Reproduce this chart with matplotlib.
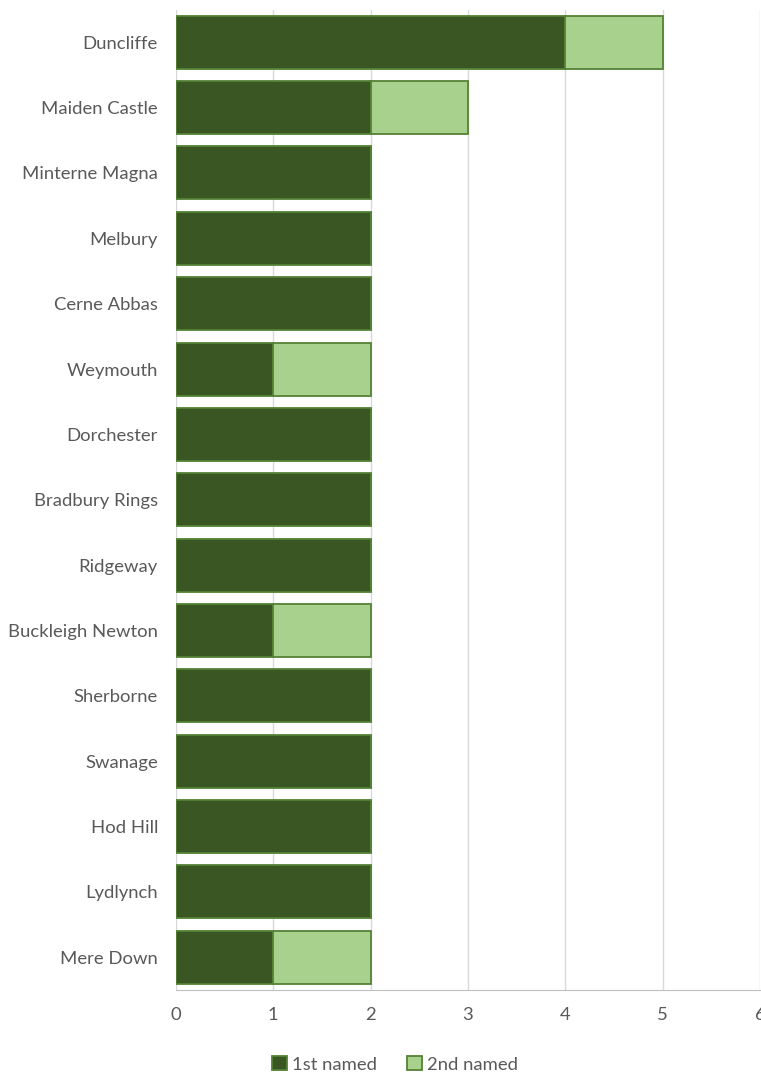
import matplotlib.pyplot as plt

places = ['Duncliffe', 'Maiden Castle', 'Minterne Magna', 'Melbury', 'Cerne Abbas',
          'Weymouth', 'Dorchester', 'Bradbury Rings', 'Ridgeway', 'Buckleigh Newton',
          'Sherborne', 'Swanage', 'Hod Hill', 'Lydlynch', 'Mere Down']
first_named = [4, 2, 2, 2, 2, 1, 2, 2, 2, 1, 2, 2, 2, 2, 1]
second_named = [1, 1, 0, 0, 0, 1, 0, 0, 0, 1, 0, 0, 0, 0, 1]

plt.rcParams['font.family'] = ['Lato', 'DejaVu Sans']
plt.rcParams['font.size'] = 13.3
txt = '#595959'

fig = plt.figure(figsize=(7.61, 10.73), dpi=100)
ax = fig.add_axes([0.2313, 0.0774, 0.7674, 0.9137])

y = list(range(len(places)))
ax.barh(y, first_named, height=0.81, color='#3A5723', edgecolor='#548235',
        linewidth=1.3, label='1st named', zorder=3)
ax.barh(y, second_named, left=first_named, height=0.81, color='#A9D18E',
        edgecolor='#548235', linewidth=1.3, label='2nd named', zorder=3)

ax.set_xlim(0, 6)
ax.set_ylim(len(places) - 0.5, -0.5)
ax.set_yticks(y)
ax.set_yticklabels(places, color=txt)
ax.set_xticks(range(7))
ax.tick_params(axis='x', colors=txt, length=0, pad=12)
ax.tick_params(axis='y', length=0, pad=13)
ax.grid(axis='x', color='#D9D9D9', linewidth=1, zorder=0)
for s in ['top', 'right', 'left']:
    ax.spines[s].set_visible(False)
ax.spines['bottom'].set_color('#BFBFBF')

ax.legend(loc='center', bbox_to_anchor=(0.375, -0.076), ncol=2, frameon=False,
          handlelength=0.8, handleheight=0.8, handletextpad=0.3, columnspacing=1.6,
          labelcolor=txt)

fig.savefig('out.png', dpi=100)
